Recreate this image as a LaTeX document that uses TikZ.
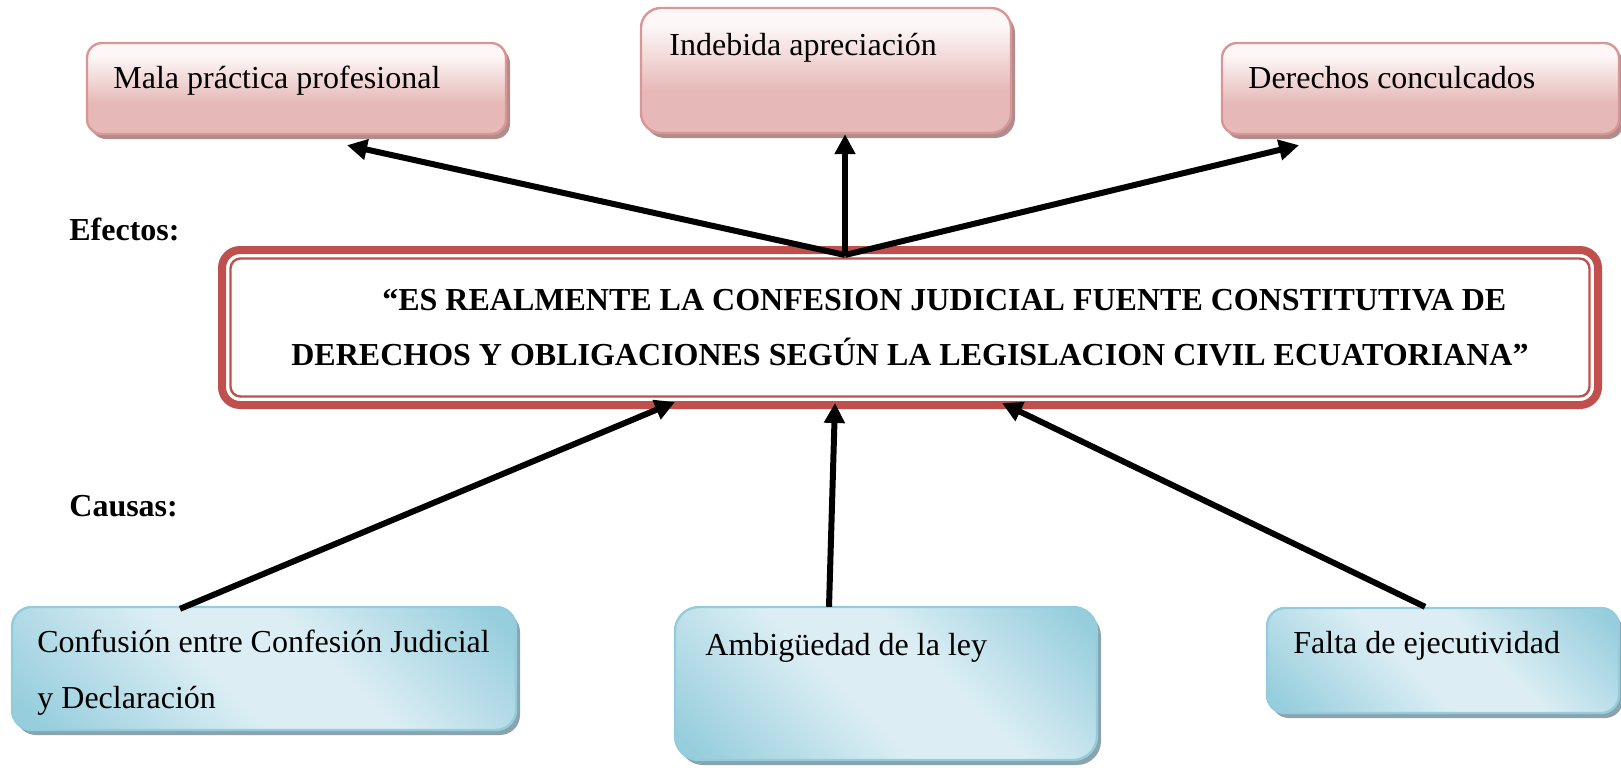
\documentclass[tikz,border=0pt]{standalone}
\usepackage{fontspec}
\setmainfont{Liberation Serif}
\usetikzlibrary{arrows.meta,calc,shadows}
\definecolor{efectoborde}{HTML}{D99694}
\definecolor{efectoclaro}{HTML}{FDF7F7}
\definecolor{efectooscuro}{HTML}{E6B9B8}
\definecolor{efectosombra}{HTML}{B08C8C}
\definecolor{causaborde}{HTML}{93CDDD}
\definecolor{causaclaro}{HTML}{DCEEF4}
\definecolor{causaoscuro}{HTML}{97CEDD}
\definecolor{causasombra}{HTML}{8AA3AD}
\definecolor{temarojo}{HTML}{C0504D}
\pgfdeclareverticalshading{efectograd}{100bp}{color(0bp)=(efectooscuro); color(25bp)=(efectooscuro); color(42bp)=(efectooscuro); color(68bp)=(efectoclaro); color(100bp)=(efectoclaro)}
\pgfdeclarehorizontalshading{causagrad}{100bp}{color(0bp)=(causaoscuro); color(18bp)=(causaoscuro); color(44bp)=(causaclaro); color(58bp)=(causaclaro); color(82bp)=(causaoscuro); color(100bp)=(causaoscuro)}
\tikzset{
  efecto/.style={draw=efectoborde, line width=1.2pt, rounded corners=7.5pt, shade, shading=efectograd,
    drop shadow={shadow xshift=2pt, shadow yshift=-2.5pt, fill=efectosombra, opacity=1}},
  causa/.style={draw=causaborde, line width=1.2pt, rounded corners=10pt, shade, shading=causagrad, shading angle=45,
    drop shadow={shadow xshift=2pt, shadow yshift=-2.5pt, fill=causasombra, opacity=1}},
  texto/.style={anchor=base west, inner sep=0pt, align=left, font=\fontsize{16}{28}\selectfont},
  rotulo/.style={anchor=base west, inner sep=0pt, font=\fontsize{16}{28}\selectfont\bfseries},
  tema/.style={draw=temarojo, line width=4pt, rounded corners=9pt, fill=white, align=left,
    font=\fontsize{16}{27.5}\selectfont\bfseries},
  flecha/.style={line width=3pt, -{Triangle[length=10pt,width=10pt]}}
}

\begin{document}
\begin{tikzpicture}[x=0.5pt, y=-0.5pt]
  \useasboundingbox (0,0) rectangle (1621,767);

  \node[efecto, minimum width=209.5pt, minimum height=45.5pt] (mala) at (296.5,88.5) {};
  \node[efecto, minimum width=185pt, minimum height=62.5pt, rounded corners=10pt] (ind) at (826,70.5) {};
  \node[efecto, minimum width=198.5pt, minimum height=45.5pt] (der) at (1420.5,88.5) {};
  \node[texto] (tmala) at (113,88) {Mala práctica profesional};
  \node[texto] (tind) at (669,55) {Indebida apreciación};
  \node[texto] (tder) at (1248,88) {Derechos conculcados};

  \node[causa, minimum width=252pt, minimum height=61.5pt] (conf) at (264,668.5) {};
  \node[causa, minimum width=211pt, minimum height=76.5pt, rounded corners=12pt] (amb) at (886,683.5) {};
  \node[causa, minimum width=176pt, minimum height=52.5pt, rounded corners=9pt] (fal) at (1443,660.5) {};
  \node[texto] (tconf) at (37,708) {Confusión entre Confesión Judicial\\y Declaración};
  \node[texto] (tamb) at (705,655) {Ambigüedad de la ley};
  \node[texto] (tfal) at (1293,653) {Falta de ejecutividad};

  \node[rotulo] (efectos) at (69,240) {Efectos:};
  \node[rotulo] (causas) at (69,516) {Causas:};

  \node[tema, minimum width=688pt, minimum height=77.5pt] (tema) at (910,327.5)
    {\hspace*{45.5pt}“ES REALMENTE LA CONFESION JUDICIAL FUENTE CONSTITUTIVA DE\\
     DERECHOS Y OBLIGACIONES SEGÚN LA LEGISLACION CIVIL ECUATORIANA”};
  \draw[temarojo, line width=1.2pt, rounded corners=5pt]
    ($(tema.north west)+(12.5,12.5)$) rectangle ($(tema.south east)+(-12.5,-12.5)$);

  \coordinate (centro) at ($(tema.north)+(-65,9)$);
  \draw[flecha] (centro) -- ($(mala.south)+(50.5,10)$);
  \draw[flecha] (centro) -- ($(ind.south)+(19,0)$);
  \draw[flecha] (centro) -- ($(der.south)+(-121.5,10)$);

  \draw[flecha] ($(conf.north)+(-84,3)$) -- ($(tema.south)+(-235,-7)$);
  \draw[flecha] ($(amb.north)+(-57,1)$) -- ($(tema.south)+(-75,-6)$);
  \draw[flecha] ($(fal.north)+(-18,0)$) -- ($(tema.south)+(92,-6)$);
\end{tikzpicture}
\end{document}
